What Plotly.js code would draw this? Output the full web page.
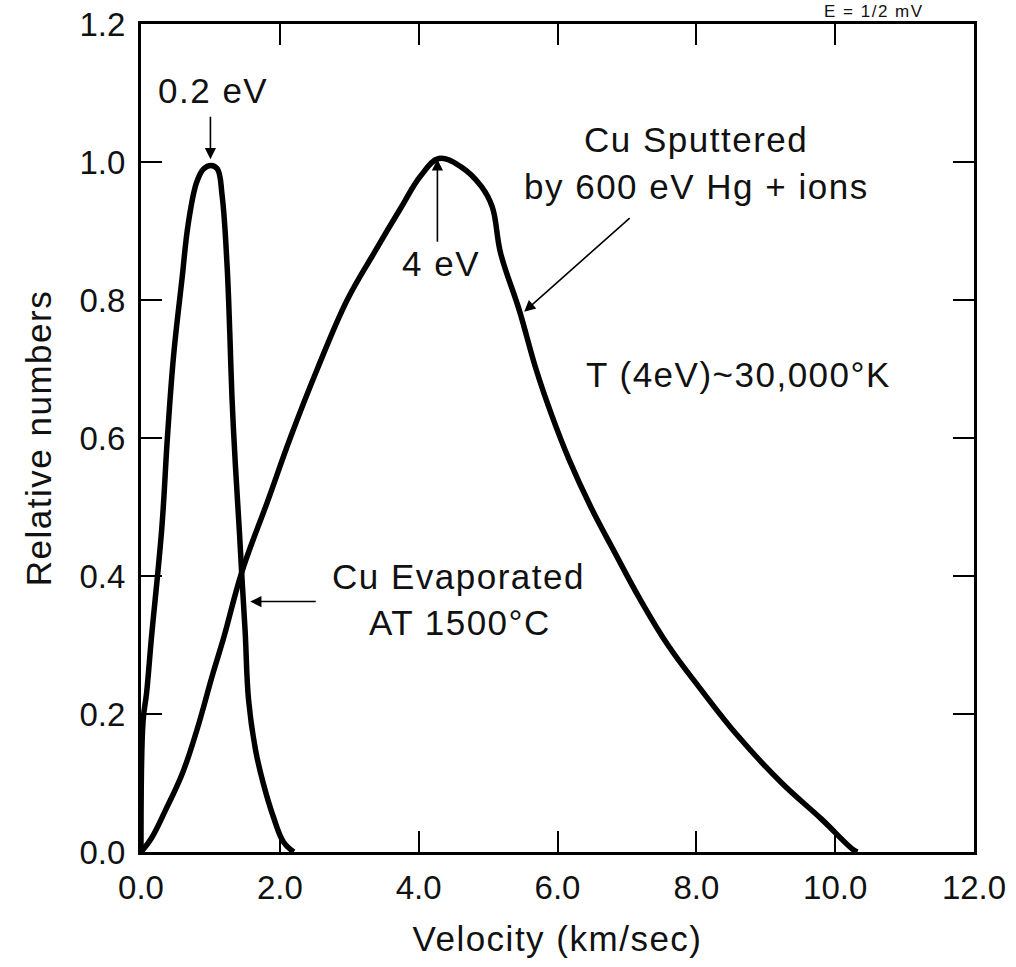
<!DOCTYPE html>
<html>
<head>
<meta charset="utf-8">
<script src="https://cdn.plot.ly/plotly-3.0.1.min.js"></script>
<style>
  html, body { margin: 0; padding: 0; background: #fff; }
  #chart { width: 1016px; height: 967px; }
  .annotation-text, .g-xtitle text, .g-ytitle text { letter-spacing: 1.5px; }
</style>
</head>
<body>
<div id="chart"></div>
<script>
// Cu evaporated at 1500°C (velocity km/s, relative numbers)
const evapX = [0, 0.03, 0.08, 0.15, 0.30, 0.38, 0.47, 0.59, 0.68, 0.80, 0.90, 1.01, 1.10, 1.17, 1.24, 1.28, 1.31, 1.36, 1.42, 1.45, 1.50, 1.55, 1.65, 1.76, 1.91, 2.05, 2.20];
const evapY = [0, 0.19, 0.23, 0.31, 0.47, 0.60, 0.72, 0.83, 0.91, 0.97, 0.99, 0.995, 0.99, 0.95, 0.85, 0.75, 0.66, 0.56, 0.46, 0.405, 0.32, 0.22, 0.148, 0.10, 0.05, 0.015, 0];

// Cu sputtered by 600 eV Hg+ ions
const sputX = [0, 0.15, 0.35, 0.60, 0.80, 1.04, 1.19, 1.45, 1.83, 2.15, 2.54, 2.97, 3.35, 3.74, 4.03, 4.29, 4.61, 4.90, 5.06, 5.18, 5.45, 5.69, 5.91, 6.17, 6.48, 6.82, 7.18, 7.59, 8.07, 8.60, 9.23, 9.80, 10.24, 10.32];
const sputY = [0, 0.02, 0.06, 0.115, 0.175, 0.26, 0.31, 0.405, 0.51, 0.60, 0.70, 0.80, 0.867, 0.933, 0.98, 1.005, 0.993, 0.965, 0.935, 0.868, 0.785, 0.70, 0.635, 0.568, 0.50, 0.435, 0.368, 0.30, 0.235, 0.168, 0.10, 0.048, 0.005, 0];

const xTicks = [0, 2, 4, 6, 8, 10, 12];
const xTickLabels = ["0.0", "2.0", "4.0", "6.0", "8.0", "10.0", "12.0"];
const yTicks = [0, 0.2, 0.4, 0.6, 0.8, 1.0, 1.2];
const yTickLabels = ["0.0", "0.2", "0.4", "0.6", "0.8", "1.0", "1.2"];

const FONT = "Liberation Sans, Arial, sans-serif";
const INK = "#111";

const line = {color: "#000", width: 5.5, shape: "spline", smoothing: 1.1};
const traces = [
  {x: evapX, y: evapY, mode: "lines", line: line, name: "Cu Evaporated", hoverinfo: "skip"},
  {x: sputX, y: sputY, mode: "lines", line: line, name: "Cu Sputtered", hoverinfo: "skip"}
];

function txt(text, x, y) {
  return {text: text, x: x, y: y, xref: "x", yref: "y", showarrow: false,
          xanchor: "center", yanchor: "middle", font: {family: FONT, size: 35, color: INK}};
}
function arrow(x, y, ax, ay) {
  return {text: "", x: x, y: y, xref: "x", yref: "y", ax: ax, ay: ay, showarrow: true,
          arrowhead: 2, arrowsize: 1.4, arrowwidth: 1.6, arrowcolor: "#000", standoff: 0};
}

const annotations = [
  txt("0.2 eV", 1.04, 1.103),
  arrow(1.0, 1.004, 0, -44),
  txt("4 eV", 4.32, 0.853),
  arrow(4.27, 1.004, 0, 84),
  txt("Cu Sputtered", 8.0, 1.032),
  txt("by 600 eV Hg + ions", 8.0, 0.965),
  arrow(5.52, 0.783, 107, -95),
  txt("T (4eV)~30,000°K", 8.61, 0.692),
  txt("Cu Evaporated", 4.58, 0.40),
  txt("AT 1500°C", 4.59, 0.332),
  arrow(1.574, 0.363, 67, 0),
  {text: "E = 1/2 mV", xref: "paper", yref: "paper", x: 0.88, y: 1.0, yshift: 1,
   xanchor: "center", yanchor: "bottom", showarrow: false,
   font: {family: FONT, size: 17, color: INK}}
];

const layout = {
  width: 1016, height: 967,
  margin: {l: 141, r: 42, t: 24, b: 115},
  paper_bgcolor: "#fff", plot_bgcolor: "#fff",
  showlegend: false,
  font: {family: FONT, color: INK},
  xaxis: {
    range: [0, 12], tickvals: xTicks, ticktext: xTickLabels,
    ticks: "inside", ticklen: 21, tickwidth: 2, tickcolor: "#000",
    showline: true, linewidth: 3, linecolor: "#000", mirror: "ticks",
    showgrid: false, zeroline: false,
    tickfont: {family: FONT, size: 33, color: INK},
    ticklabelstandoff: 4,
    title: {text: "Velocity (km/sec)", font: {family: FONT, size: 35, color: INK}, standoff: 22}
  },
  yaxis: {
    range: [0, 1.2], tickvals: yTicks, ticktext: yTickLabels,
    ticks: "inside", ticklen: 21, tickwidth: 2, tickcolor: "#000",
    showline: true, linewidth: 3, linecolor: "#000", mirror: "ticks",
    showgrid: false, zeroline: false,
    tickfont: {family: FONT, size: 33, color: INK},
    ticklabelstandoff: 6,
    title: {text: "Relative numbers", font: {family: FONT, size: 35, color: INK}, standoff: 18}
  },
  annotations: annotations
};

Plotly.newPlot("chart", traces, layout, {staticPlot: true, displayModeBar: false});
</script>
</body>
</html>
